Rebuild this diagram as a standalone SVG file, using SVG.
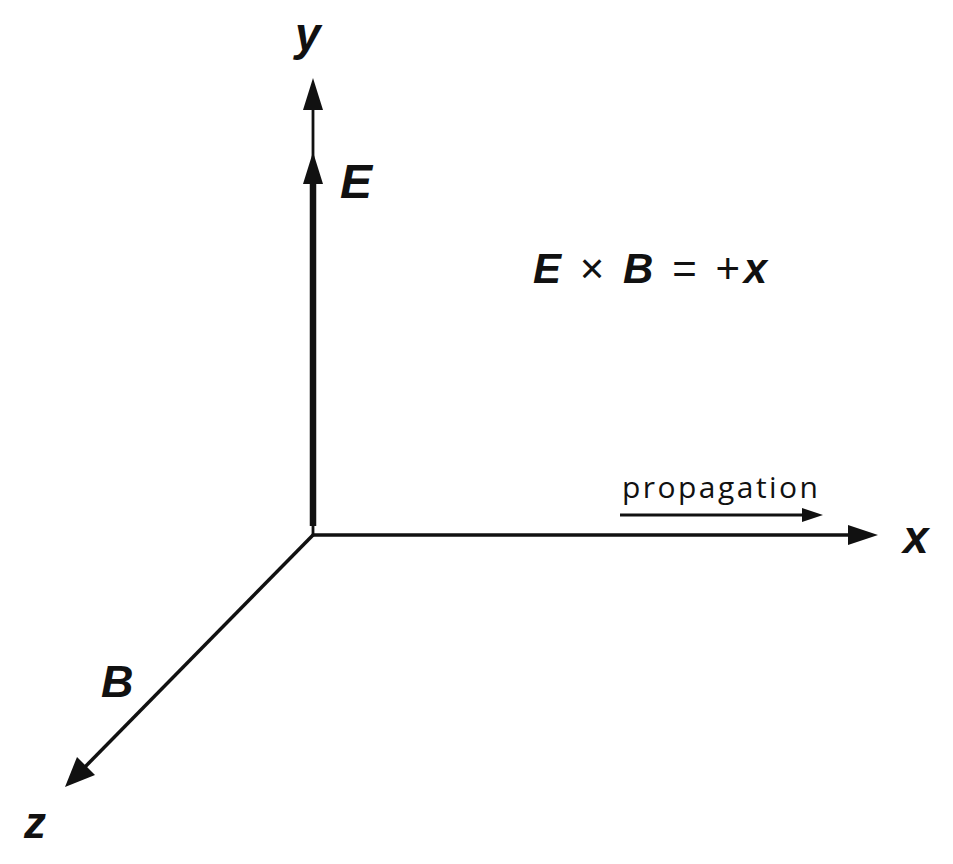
<svg xmlns="http://www.w3.org/2000/svg" width="953" height="864" viewBox="0 0 953 864">
<style>
.axis{stroke:#111;stroke-width:3.5;fill:none;stroke-linecap:butt}
.thick{stroke:#111;stroke-width:6.5;fill:none}
.thin{stroke:#111;stroke-width:2.8;fill:none}
.head{fill:#111;stroke:none}
.lbl{font-family:"Liberation Sans",Arial,sans-serif;font-style:italic;font-weight:bold;fill:#111}
.plain{font-family:"Liberation Sans",Arial,sans-serif;fill:#111}
.prop{font-family:"Open Sans","Liberation Sans",sans-serif;fill:#111}
</style>
<rect width="953" height="864" fill="#ffffff"/>
<g id="connectors">
  <line class="thin" x1="313" y1="183" x2="313" y2="106"/>
  <polygon class="head" points="313,78 303,110 323,110"/>
  <line class="thick" x1="313" y1="526" x2="313" y2="180"/>
  <line class="thin" x1="313" y1="524" x2="313" y2="535"/>
  <polygon class="head" points="313,152 303,184 323,184"/>
  <line class="axis" x1="312" y1="535" x2="852" y2="535"/>
  <polygon class="head" points="878,535 848,525 848,545"/>
  <line class="axis" x1="314" y1="534" x2="82" y2="770"/>
  <polygon class="head" points="65,787 77,757 95,775"/>
  <line class="thin" x1="620" y1="515" x2="806" y2="515"/>
  <polygon class="head" points="823,515 802,508 802,522"/>
</g>
<g id="label-y"><text class="lbl" x="295" y="50" font-size="46">y</text></g>
<g id="label-E"><text class="lbl" x="340" y="198" font-size="48">E</text></g>
<g id="label-x"><text class="lbl" x="903" y="553" font-size="46">x</text></g>
<g id="label-z"><text class="lbl" x="24" y="838" font-size="44">z</text></g>
<g id="label-B"><text class="lbl" x="101" y="697" font-size="45">B</text></g>
<g id="equation"><text x="533" y="283" font-size="42" textLength="234" lengthAdjust="spacing" class="plain"><tspan class="lbl">E</tspan> × <tspan class="lbl">B</tspan> = +<tspan class="lbl">x</tspan></text></g>
<g id="label-propagation"><text class="prop" x="622" y="498" font-size="30" textLength="196" lengthAdjust="spacing">propagation</text></g>
</svg>
